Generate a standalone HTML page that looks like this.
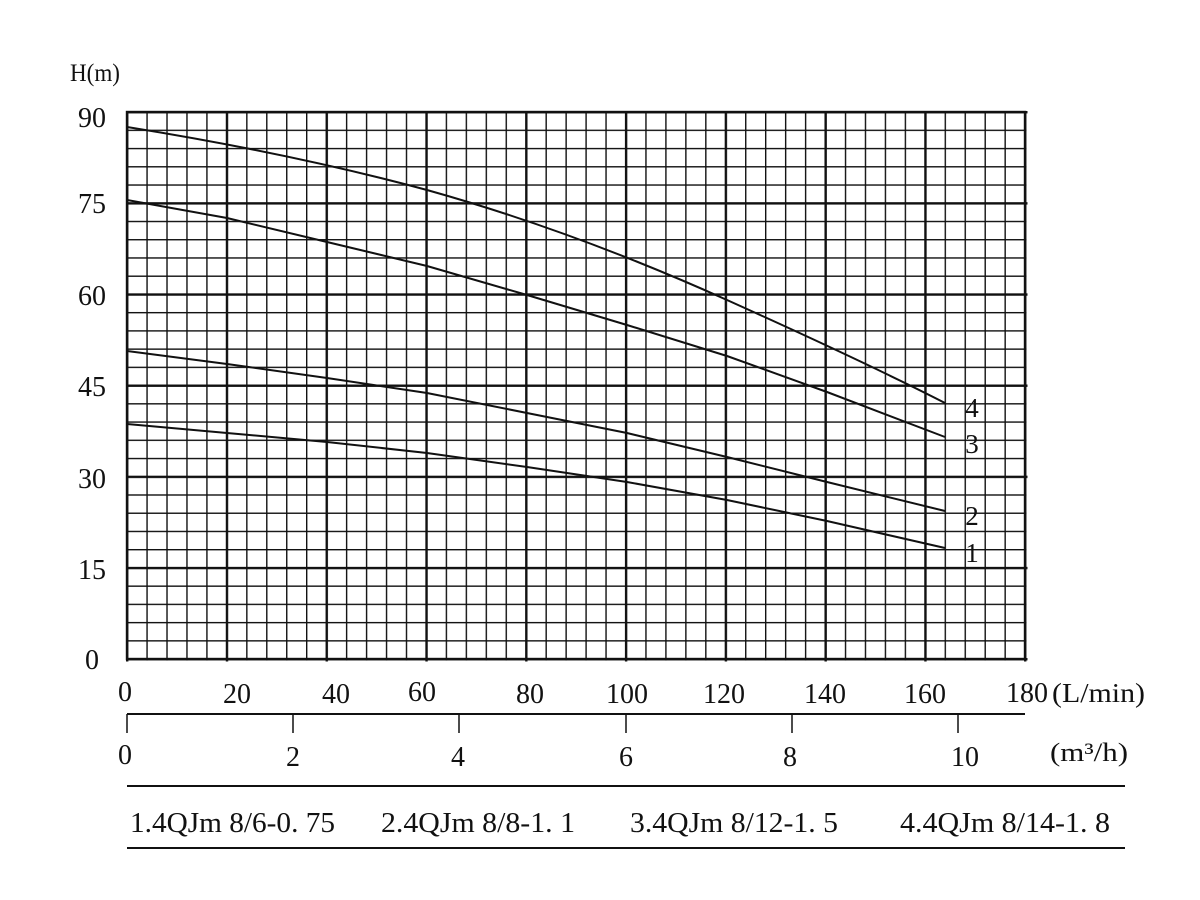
<!DOCTYPE html>
<html><head><meta charset="utf-8"><style>
html,body{margin:0;padding:0;background:#fff;width:1200px;height:900px;overflow:hidden}
text{font-family:"Liberation Serif","Noto Serif CJK SC",serif;fill:#111}
</style></head><body>
<svg width="1200" height="900" viewBox="0 0 1200 900" xmlns="http://www.w3.org/2000/svg">
<defs>
<pattern id="vmin" patternUnits="userSpaceOnUse" x="126.4" y="0" width="19.956" height="10"><rect x="0" y="0" width="1.4" height="10" fill="#111"/></pattern>
<pattern id="hmin" patternUnits="userSpaceOnUse" x="0" y="111.4" width="10" height="18.233"><rect x="0" y="0" width="10" height="1.4" fill="#111"/></pattern>
<pattern id="vmaj" patternUnits="userSpaceOnUse" x="126" y="0" width="99.78" height="10"><rect x="0" y="0" width="2.4" height="10" fill="#111"/></pattern>
<pattern id="hmaj" patternUnits="userSpaceOnUse" x="0" y="111" width="10" height="91.17"><rect x="0" y="0" width="10" height="2.4" fill="#111"/></pattern>
</defs>
<rect x="126" y="111" width="900.5" height="549.5" fill="url(#vmin)"/>
<rect x="126" y="111" width="900.5" height="549.5" fill="url(#hmin)"/>
<rect x="126" y="111" width="901.5" height="550.5" fill="url(#vmaj)"/>
<rect x="126" y="111" width="901.5" height="550.5" fill="url(#hmaj)"/>
<rect x="127" y="112" width="898" height="547" fill="none" stroke="#111" stroke-width="2.4"/>
<g fill="none" stroke="#111" stroke-width="2">
<path d="M127,127 C227,143 327,163 427,190 C527,218 627,255 727,300 C827,345 900,380 945,403"/>
<polyline points="127,200 227,218 327,242 427,266 527,295 627,325 727,356 827,392 945,437"/>
<polyline points="127,351 227,364 327,378 427,393 527,413 627,433 727,457 827,482 945,511"/>
<polyline points="127,424 227,433 327,442 427,453 527,467 627,482 727,500 827,521 945,548"/>
</g>
<g font-size="27" text-anchor="middle">
<text x="972" y="417">4</text><text x="972" y="453">3</text><text x="972" y="525">2</text><text x="972" y="562">1</text>
</g>
<text x="70" y="81" font-size="25" textLength="50" lengthAdjust="spacingAndGlyphs">H(m)</text>
<g font-size="28" text-anchor="middle">
<text x="92" y="127">90</text><text x="92" y="213">75</text><text x="92" y="305">60</text><text x="92" y="396">45</text><text x="92" y="488">30</text><text x="92" y="579">15</text><text x="92" y="669">0</text>
<text x="125" y="701">0</text><text x="237" y="703">20</text><text x="336" y="703">40</text><text x="422" y="701">60</text><text x="530" y="703">80</text><text x="627" y="703">100</text><text x="724" y="703">120</text><text x="825" y="703">140</text><text x="925" y="703">160</text>
<text x="1027" y="702">180</text>
<text x="125" y="764">0</text><text x="293" y="766">2</text><text x="458" y="766">4</text><text x="626" y="766">6</text><text x="790" y="766">8</text><text x="965" y="766">10</text>
</g>
<text x="1052" y="702" font-size="27" textLength="93" lengthAdjust="spacingAndGlyphs">(L/min)</text>
<text x="1050" y="761" font-size="26" textLength="78" lengthAdjust="spacingAndGlyphs">(m³/h)</text>
<g stroke="#111" stroke-width="2">
<line x1="127" y1="714" x2="1025" y2="714"/>
<line x1="127" y1="786" x2="1125" y2="786"/>
<line x1="127" y1="848" x2="1125" y2="848"/>
</g>
<g stroke="#111" stroke-width="1.5">
<line x1="127" y1="714" x2="127" y2="733"/><line x1="293" y1="714" x2="293" y2="733"/><line x1="459" y1="714" x2="459" y2="733"/><line x1="626" y1="714" x2="626" y2="733"/><line x1="792" y1="714" x2="792" y2="733"/><line x1="958" y1="714" x2="958" y2="733"/>
</g>
<g font-size="28">
<text x="130" y="832" textLength="205" lengthAdjust="spacingAndGlyphs">1.4QJm 8/6-0. 75</text>
<text x="381" y="832" textLength="194" lengthAdjust="spacingAndGlyphs">2.4QJm 8/8-1. 1</text>
<text x="630" y="832" textLength="208" lengthAdjust="spacingAndGlyphs">3.4QJm 8/12-1. 5</text>
<text x="900" y="832" textLength="210" lengthAdjust="spacingAndGlyphs">4.4QJm 8/14-1. 8</text>
</g>
</svg>
</body></html>
